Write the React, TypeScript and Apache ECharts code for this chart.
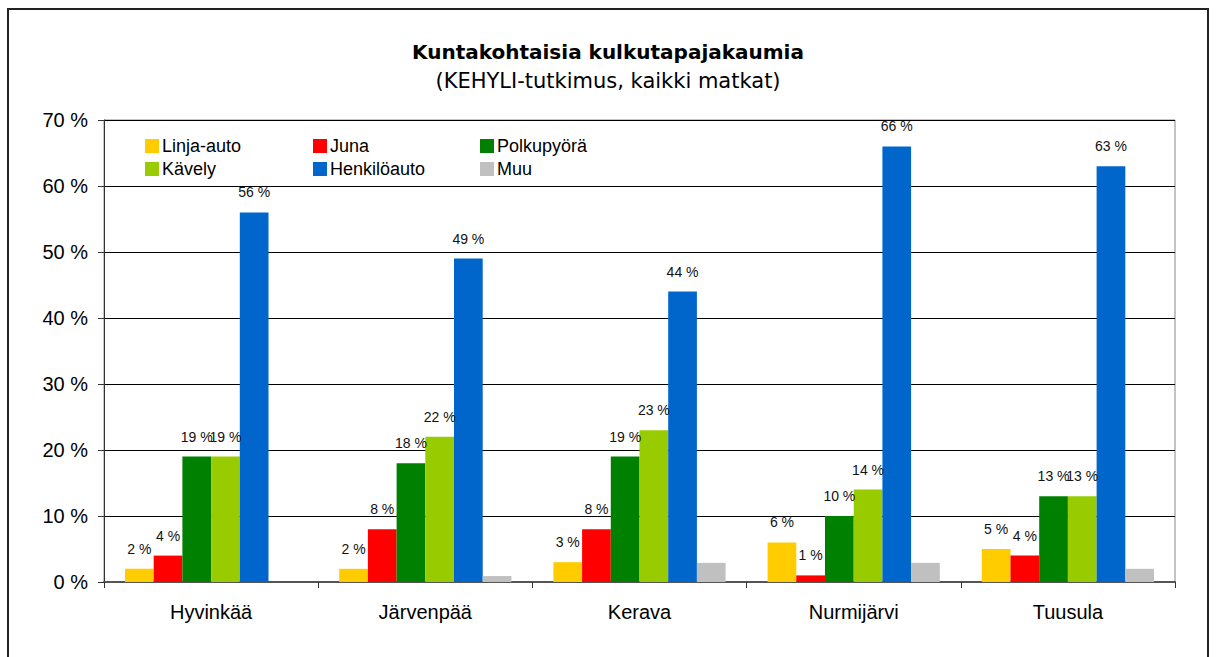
import React, { useEffect, useRef } from "react";
import * as echarts from "echarts";

const categories = ["Hyvinkää", "Järvenpää", "Kerava", "Nurmijärvi", "Tuusula"];
const seriesNames = ["Linja-auto", "Juna", "Polkupyörä", "Kävely", "Henkilöauto", "Muu"];
const linjaAuto = [2, 2, 3, 6, 5];
const juna = [4, 8, 8, 1, 4];
const polkupyora = [19, 18, 19, 10, 13];
const kavely = [19, 22, 23, 14, 13];
const henkiloauto = [56, 49, 44, 66, 63];
const muu = [0, 0.9, 2.9, 2.9, 2];
const colors = ["#FFCC00", "#FF0000", "#008000", "#99CC00", "#0066CC", "#C0C0C0"];
const showLabels = [true, true, true, true, true, false];
const yTicks = { min: 0, max: 70, interval: 10 };

const FONT = "'Liberation Sans', Arial, sans-serif";
const TITLE_FONT = "'DejaVu Sans', 'Liberation Sans', sans-serif";

export default function App() {
  const ref = useRef<HTMLDivElement>(null);
  useEffect(() => {
    if (!ref.current) return;
    const chart = echarts.init(ref.current, null, { renderer: "svg" });
    const dataSets = [linjaAuto, juna, polkupyora, kavely, henkiloauto, muu];
    const legendPos = [
      { left: 145, top: 137 },
      { left: 313, top: 137 },
      { left: 480, top: 137 },
      { left: 145, top: 160 },
      { left: 313, top: 160 },
      { left: 480, top: 160 },
    ];
    const option: any = {
      animation: false,
      textStyle: { fontFamily: FONT },
      title: [
        {
          text: "Kuntakohtaisia kulkutapajakaumia",
          left: "center",
          top: 42,
          padding: 0,
          textStyle: { fontFamily: TITLE_FONT, fontSize: 20, fontWeight: "bold", color: "#000" },
        },
        {
          text: "(KEHYLI-tutkimus, kaikki matkat)",
          left: "center",
          top: 70,
          padding: 0,
          textStyle: { fontFamily: TITLE_FONT, fontSize: 21, fontWeight: "normal", color: "#000" },
        },
      ],
      legend: seriesNames.map((n, i) => ({
        data: [n],
        left: legendPos[i].left,
        top: legendPos[i].top,
        padding: 0,
        itemWidth: 14,
        itemHeight: 14,
        icon: "rect",
        selectedMode: false,
        textStyle: { fontFamily: FONT, fontSize: 18, color: "#000", lineHeight: 18, padding: [0, 0, 0, -2] },
      })),
      grid: { left: 104, top: 120, right: 41, bottom: 75, show: true, borderColor: "#888", borderWidth: 1 },
      xAxis: {
        type: "category",
        data: categories,
        axisLine: { lineStyle: { color: "#555", width: 2 } },
        axisTick: { show: true, alignWithLabel: false, length: 6, lineStyle: { color: "#333" } },
        axisLabel: { fontFamily: FONT, fontSize: 20, color: "#000", margin: 20 },
      },
      yAxis: {
        type: "value",
        min: yTicks.min,
        max: yTicks.max,
        interval: yTicks.interval,
        axisLine: { show: true, lineStyle: { color: "#333" } },
        axisTick: { show: true, length: 6, lineStyle: { color: "#333" } },
        axisLabel: { fontFamily: FONT, fontSize: 20, color: "#000", margin: 16, formatter: "{value} %" },
        splitLine: { lineStyle: { color: "#000" } },
      },
      graphic: [
        {
          type: "rect",
          shape: { x: 8, y: 9, width: 1200, height: 720 },
          style: { fill: "none", stroke: "#222", lineWidth: 2 },
          silent: true,
        },
      ],
      series: seriesNames.map((n, i) => ({
        name: n,
        type: "bar",
        data: dataSets[i],
        itemStyle: { color: colors[i] },
        barWidth: "13.4%",
        barGap: "0%",
        barCategoryGap: "20%",
        label: {
          show: showLabels[i],
          position: "top",
          distance: 13,
          formatter: (p: any) => `${Math.round(p.value)} %`,
          fontFamily: FONT,
          fontSize: 14,
          color: "#111",
        },
      })),
    };
    chart.setOption(option);
    return () => chart.dispose();
  }, []);
  return (
    <div
      ref={ref}
      style={{ position: "fixed", left: 0, top: 0, width: 1216, height: 657, background: "#fff" }}
    />
  );
}
